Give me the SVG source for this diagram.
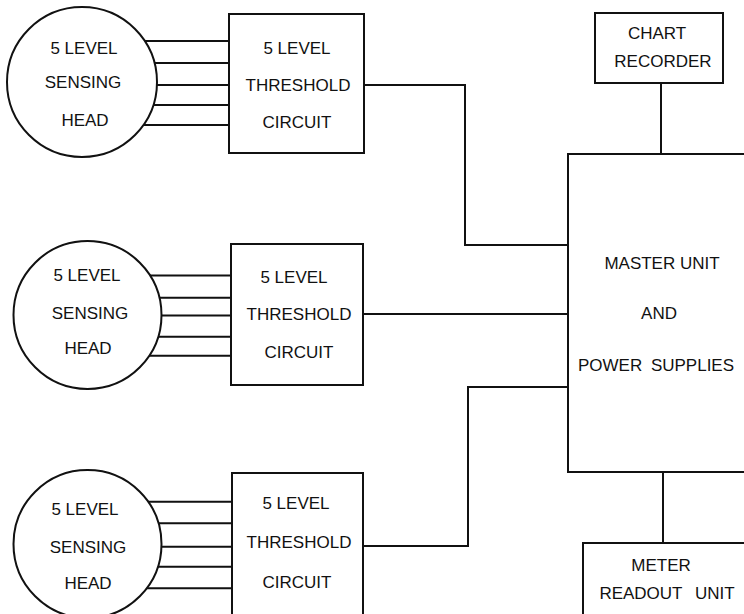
<svg xmlns="http://www.w3.org/2000/svg" width="744" height="614" viewBox="0 0 744 614">
<style>
.s{fill:none;stroke:#111;stroke-width:2}
.n{fill:#fff;stroke:#111;stroke-width:2}
text{font-family:"Liberation Sans",Arial,sans-serif;font-size:17px;fill:#111;text-anchor:middle}
</style>
<rect width="744" height="614" fill="#fff"/>
<g id="connectors" class="s">
<path d="M145,41H229M155,63H229M157,85H229M153,105H229M143,125H229"/>
<path d="M150,275.5H231M159,297.7H231M161,315.5H231M158,336.7H231M149,355.7H231"/>
<path d="M148,501.7H232M158,523.3H232M161,546.7H232M157,566.7H232M146,588.3H232"/>
<path d="M364,85H465V245H568"/>
<path d="M363,314H568"/>
<path d="M363,546H468V387H568"/>
<path d="M661,83V154"/>
<path d="M663,472V543"/>
</g>
<g id="head1"><circle class="n" cx="82" cy="82" r="75"/><text x="84" y="54">5 LEVEL</text><text x="83" y="88">SENSING</text><text x="85" y="126">HEAD</text></g>
<g id="thresh1"><rect class="n" x="229" y="14" width="135" height="139"/><text x="297" y="54">5 LEVEL</text><text x="298" y="91">THRESHOLD</text><text x="297" y="128">CIRCUIT</text></g>
<g id="head2"><circle class="n" cx="87.5" cy="315" r="74"/><text x="87" y="281">5 LEVEL</text><text x="90" y="319">SENSING</text><text x="88" y="354">HEAD</text></g>
<g id="thresh2"><rect class="n" x="231" y="244" width="132" height="141"/><text x="294" y="283">5 LEVEL</text><text x="299" y="320">THRESHOLD</text><text x="299" y="358">CIRCUIT</text></g>
<g id="head3"><circle class="n" cx="87.5" cy="544" r="74"/><text x="85" y="515">5 LEVEL</text><text x="88" y="553">SENSING</text><text x="88" y="589">HEAD</text></g>
<g id="thresh3"><rect class="n" x="232" y="473" width="131" height="160"/><text x="296" y="509">5 LEVEL</text><text x="299" y="548">THRESHOLD</text><text x="297" y="588">CIRCUIT</text></g>
<g id="chart"><rect class="n" x="595" y="13" width="128" height="70"/><text x="657" y="39">CHART</text><text x="663" y="67">RECORDER</text></g>
<g id="master"><rect class="n" x="568" y="154" width="200" height="318"/><text x="662" y="269">MASTER UNIT</text><text x="659" y="319">AND</text><text x="656" y="371" word-spacing="4">POWER SUPPLIES</text></g>
<g id="meter"><rect class="n" x="583" y="543" width="200" height="100"/><text x="661" y="571">METER</text><text x="667" y="599" word-spacing="8">READOUT UNIT</text></g>
</svg>
